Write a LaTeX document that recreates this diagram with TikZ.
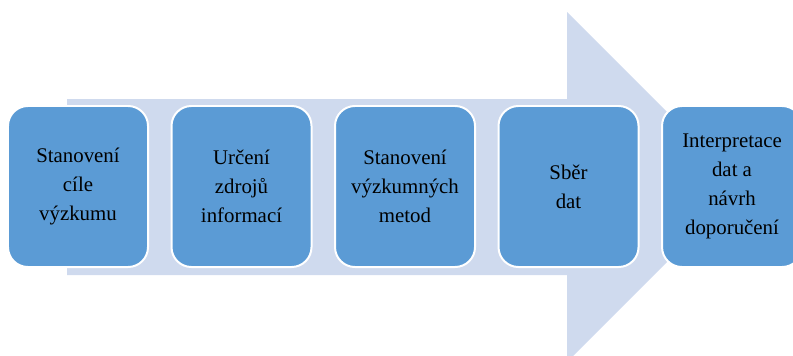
\documentclass[tikz,border=0pt]{standalone}
\usepackage{fontspec}
\setmainfont{Liberation Serif}
\usetikzlibrary{positioning}
\definecolor{stepblue}{HTML}{5B9BD5}
\definecolor{arrowlight}{HTML}{CFDAEE}

\begin{document}
\begin{tikzpicture}[x=0.03cm, y=-0.03cm,
                    phase/.style={rectangle, draw=white, line width=1.7pt, fill=stepblue,
                        rounded corners=17pt, minimum width=4.2cm, minimum height=4.83cm,
                        outer sep=0pt, align=center, font=\fontsize{17.8pt}{24.7pt}\selectfont},
                    node distance=0.705cm]
                    \clip (0,0) rectangle (793,355);

                    % Background arrow
                    \fill[arrowlight] (67,99) -- (567,99) -- (567,12) -- (742,187)
                        -- (567,362) -- (567,275) -- (67,275) -- cycle;

                    % Steps
                    \node[phase] (cil) at (78,186.5) {Stanovení\\cíle\\výzkumu};
                    \node[phase, right=of cil] (zdroje) {Určení\\zdrojů\\informací};
                    \node[phase, right=of zdroje] (metody) {Stanovení\\výzkumných\\metod};
                    \node[phase, right=of metody] (sber) {Sběr\\dat};
                    \node[phase, right=of sber] (interpretace) {Interpretace\\dat a\\návrh\\doporučení};
                \end{tikzpicture}
\end{document}
